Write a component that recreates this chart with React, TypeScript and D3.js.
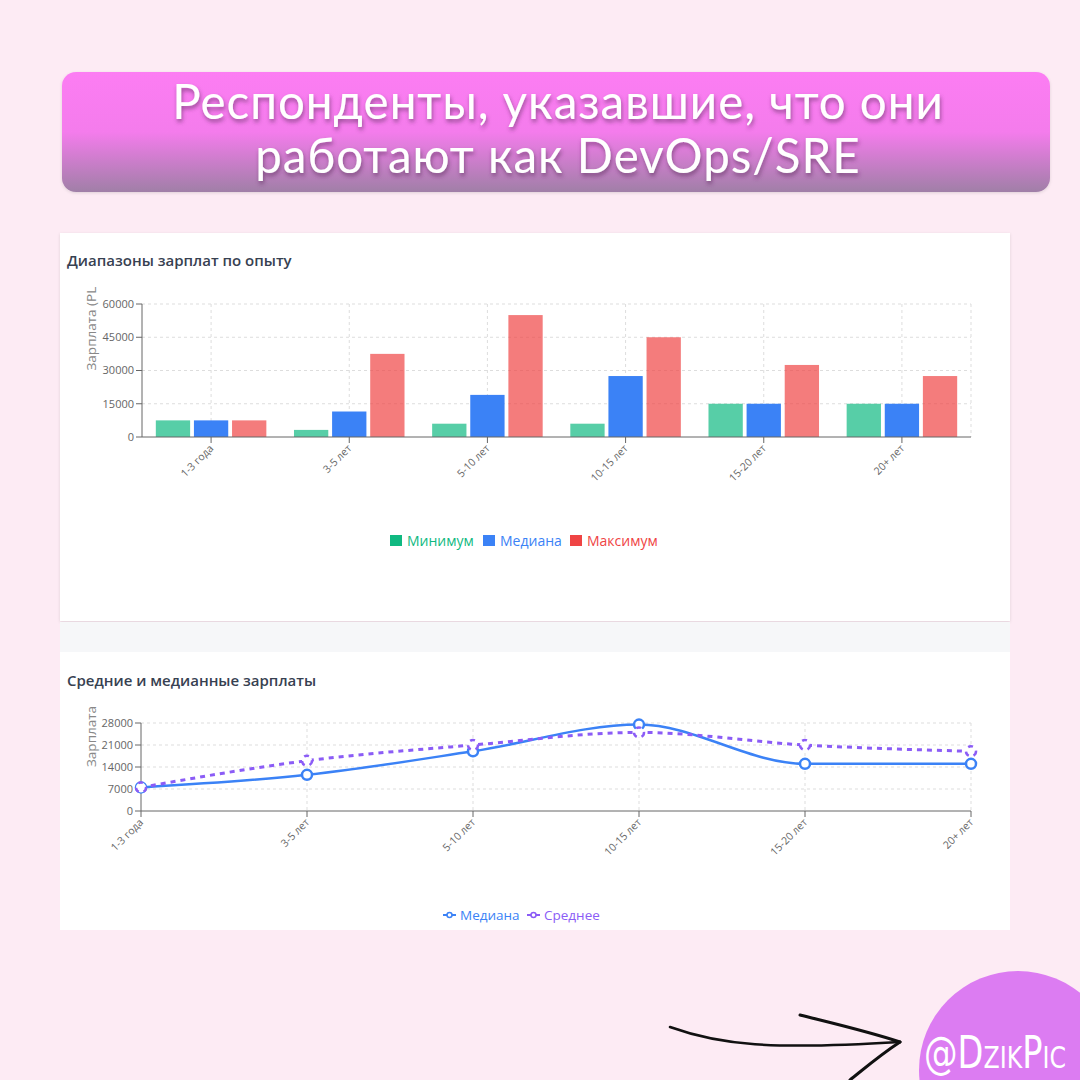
import * as d3 from 'd3';
import React from 'react';

const categories = ['1-3 года', '3-5 лет', '5-10 лет', '10-15 лет', '15-20 лет', '20+ лет'];
const minValues = [7500, 3200, 6000, 6000, 15000, 15000];
const medianValues = [7500, 11500, 19000, 27500, 15000, 15000];
const maxValues = [7500, 37500, 55000, 45000, 32500, 27500];
const meanValues = [7500, 16000, 21000, 25000, 21000, 19000];

const barTicks = [0, 15000, 30000, 45000, 60000];
const lineTicks = [0, 7000, 14000, 21000, 28000];

const barSeries = [
  { key: 'min', name: 'Минимум', color: '#10b981', values: minValues, opacity: 0.7 },
  { key: 'median', name: 'Медиана', color: '#3b82f6', values: medianValues, opacity: 1 },
  { key: 'max', name: 'Максимум', color: '#ef4444', values: maxValues, opacity: 0.7 },
];

const FONT = '"Open Sans", "Noto Sans", sans-serif';
const AXIS = '#666';
const GRID = '#ddd';

function BarChart() {
  const left = 142, right = 971, top = 304, bottom = 437;
  const x = d3.scaleBand().domain(categories).range([left, right]);
  const bw = x.bandwidth();
  const inner = d3
    .scaleBand()
    .domain(barSeries.map((s) => s.key))
    .range([bw * 0.1, bw * 0.9])
    .paddingInner(0.1);
  const y = d3.scaleLinear().domain([0, 60000]).range([bottom, top]);

  return (
    <g fontFamily={FONT}>
      <text x={67} y={266} fontSize={15} fontWeight={600} fill="#374151">Диапазоны зарплат по опыту</text>

      {/* grid */}
      {barTicks.slice(1).map((t) => (
        <line key={t} x1={left} x2={right} y1={y(t)} y2={y(t)} stroke={GRID} strokeDasharray="3 3" />
      ))}
      {categories.map((c) => (
        <line key={c} x1={x(c)! + bw / 2} x2={x(c)! + bw / 2} y1={top} y2={bottom} stroke={GRID} strokeDasharray="3 3" />
      ))}
      <line x1={right} x2={right} y1={top} y2={bottom} stroke={GRID} strokeDasharray="3 3" />

      {/* bars */}
      {categories.map((c, i) => (
        <g key={c} transform={`translate(${x(c)},0)`}>
          {barSeries.map((s) => (
            <rect
              key={s.key}
              x={inner(s.key)}
              width={inner.bandwidth()}
              y={y(s.values[i])}
              height={bottom - y(s.values[i])}
              fill={s.color}
              fillOpacity={s.opacity}
            />
          ))}
        </g>
      ))}

      {/* axes */}
      <line x1={left} x2={left} y1={top} y2={bottom} stroke={AXIS} />
      <line x1={left} x2={right} y1={bottom} y2={bottom} stroke={AXIS} />
      {barTicks.map((t) => (
        <g key={t}>
          <line x1={left - 6} x2={left} y1={y(t)} y2={y(t)} stroke={AXIS} />
          <text x={left - 8} y={y(t)} dy="0.35em" textAnchor="end" fontSize={11} fill={AXIS}>{t}</text>
        </g>
      ))}
      {categories.map((c) => {
        const cx = x(c)! + bw / 2;
        return (
          <g key={c}>
            <line x1={cx} x2={cx} y1={bottom} y2={bottom + 6} stroke={AXIS} />
            <text transform={`translate(${cx + 3},${bottom + 12}) rotate(-45)`} textAnchor="end" fontSize={10.5} fill={AXIS}>{c}</text>
          </g>
        );
      })}
      <g clipPath="url(#clipYTitle)">
        <text transform={`translate(96,${(top + bottom) / 2}) rotate(-90)`} fontSize={13.5} fill="#888">Зарплата (PLN)</text>
      </g>

      {/* legend */}
      {barSeries.map((s, i) => {
        const lx = [390, 483, 570][i];
        return (
          <g key={s.key} transform={`translate(${lx},541)`}>
            <rect x={0} y={-6} width={12} height={11} fill={s.color} />
            <text x={17} y={0} dy="0.35em" fontSize={14} fill={s.color}>{s.name}</text>
          </g>
        );
      })}
    </g>
  );
}

function LineChart() {
  const left = 141, right = 971, top = 723, bottom = 811;
  const x = d3.scalePoint().domain(categories).range([left, right]);
  const y = d3.scaleLinear().domain([0, 28000]).range([bottom, top]);
  const line = d3
    .line<number>()
    .x((_, i) => x(categories[i])!)
    .y((d) => y(d))
    .curve(d3.curveMonotoneX);

  const lines = [
    { name: 'Медиана', color: '#3b82f6', values: medianValues, dash: undefined as string | undefined, width: 2.5 },
    { name: 'Среднее', color: '#8b5cf6', values: meanValues, dash: '5 5', width: 3 },
  ];

  return (
    <g fontFamily={FONT}>
      <text x={67} y={686} fontSize={15} fontWeight={600} fill="#374151">Средние и медианные зарплаты</text>

      {lineTicks.slice(1).map((t) => (
        <line key={t} x1={left} x2={right} y1={y(t)} y2={y(t)} stroke={GRID} strokeDasharray="3 3" />
      ))}
      {categories.slice(1).map((c) => (
        <line key={c} x1={x(c)} x2={x(c)} y1={top} y2={bottom} stroke={GRID} strokeDasharray="3 3" />
      ))}

      <line x1={left} x2={left} y1={top} y2={bottom} stroke={AXIS} />
      <line x1={left} x2={right} y1={bottom} y2={bottom} stroke={AXIS} />
      {lineTicks.map((t) => (
        <g key={t}>
          <line x1={left - 6} x2={left} y1={y(t)} y2={y(t)} stroke={AXIS} />
          <text x={left - 8} y={y(t)} dy="0.35em" textAnchor="end" fontSize={11} fill={AXIS}>{t}</text>
        </g>
      ))}
      {categories.map((c) => (
        <g key={c}>
          <line x1={x(c)} x2={x(c)} y1={bottom} y2={bottom + 6} stroke={AXIS} />
          <text transform={`translate(${x(c)! + 3},${bottom + 12}) rotate(-45)`} textAnchor="end" fontSize={10.5} fill={AXIS}>{c}</text>
        </g>
      ))}
      <text transform={`translate(96,${(top + bottom) / 2}) rotate(-90)`} fontSize={13.5} fill="#888">Зарплата</text>

      {lines.map((l) => (
        <g key={l.name}>
          <path d={line(l.values) ?? ''} fill="none" stroke={l.color} strokeWidth={l.width} strokeDasharray={l.dash} />
          {l.values.map((v, i) => (
            <circle key={i} cx={x(categories[i])} cy={y(v)} r={5} fill="#fff" stroke={l.color} strokeWidth={2.5} strokeDasharray={l.dash} />
          ))}
        </g>
      ))}

      {lines.map((l, i) => {
        const lx = [443, 527][i];
        return (
          <g key={l.name} transform={`translate(${lx},915)`}>
            <line x1={0} x2={13} y1={0} y2={0} stroke={l.color} strokeWidth={2} />
            <circle cx={6.5} cy={0} r={2.5} fill="#fff" stroke={l.color} strokeWidth={1.5} />
            <text x={17} y={0} dy="0.35em" fontSize={13.5} fill={l.color}>{l.name}</text>
          </g>
        );
      })}
    </g>
  );
}

export default function App() {
  return (
    <svg width={1080} height={1080} style={{ position: 'absolute', left: 0, top: 0 }}>
      <defs>
        <linearGradient id="banner" x1="0" y1="0" x2="0" y2="1">
          <stop offset="0" stopColor="#fc7df3" />
          <stop offset="0.5" stopColor="#f47cec" />
          <stop offset="1" stopColor="#a07fa7" />
        </linearGradient>
        <filter id="textShadow" x="-10%" y="-30%" width="120%" height="160%">
          <feDropShadow dx="1" dy="3" stdDeviation="2" floodColor="#5a2a5a" floodOpacity="0.6" />
        </filter>
        <filter id="panelShadow" x="-5%" y="-5%" width="110%" height="120%">
          <feDropShadow dx="0" dy="1" stdDeviation="1.5" floodColor="#000" floodOpacity="0.12" />
        </filter>
        <clipPath id="clipYTitle">
          <rect x={0} y={286} width={1080} height={800} />
        </clipPath>
      </defs>

      <rect width={1080} height={1080} fill="#fdebf4" />

      {/* banner */}
      <rect x={62} y={72} width={988} height={120} rx={14} fill="url(#banner)" filter="url(#panelShadow)" />
      <g fontFamily='Lato, "Open Sans", sans-serif' fontSize={47.5} fill="#fff" textAnchor="middle" filter="url(#textShadow)" letterSpacing={1}>
        <text x={558} y={119}>Респонденты, указавшие, что они</text>
        <text x={558} y={173}>работают как DevOps/SRE</text>
      </g>

      {/* panels */}
      <rect x={60} y={233} width={950} height={388} fill="#fff" filter="url(#panelShadow)" />
      <rect x={60} y={622} width={950} height={30} fill="#f6f7f9" />
      <rect x={60} y={652} width={950} height={278} fill="#fff" />

      <BarChart />
      <LineChart />

      {/* signature */}
      <path d="M670,1027 C720,1045 770,1050 900,1042" fill="none" stroke="#111" strokeWidth={2.5} strokeLinecap="round" />
      <path d="M800,1015 C840,1025 870,1032 900,1042" fill="none" stroke="#111" strokeWidth={3} strokeLinecap="round" />
      <path d="M900,1042 C880,1055 865,1068 850,1080" fill="none" stroke="#111" strokeWidth={3} strokeLinecap="round" />
      <circle cx={1018} cy={1070} r={99} fill="#dc7cf2" />
      <text
        x={924}
        y={1068}
        textLength={142}
        lengthAdjust="spacingAndGlyphs"
        fontFamily='"DejaVu Sans Condensed", "Liberation Sans", sans-serif'
        fontWeight={300}
        fontSize={44}
        fill="#fff"
        style={{ fontVariant: 'small-caps' }}
      >
        @DzikPic
      </text>
    </svg>
  );
}
